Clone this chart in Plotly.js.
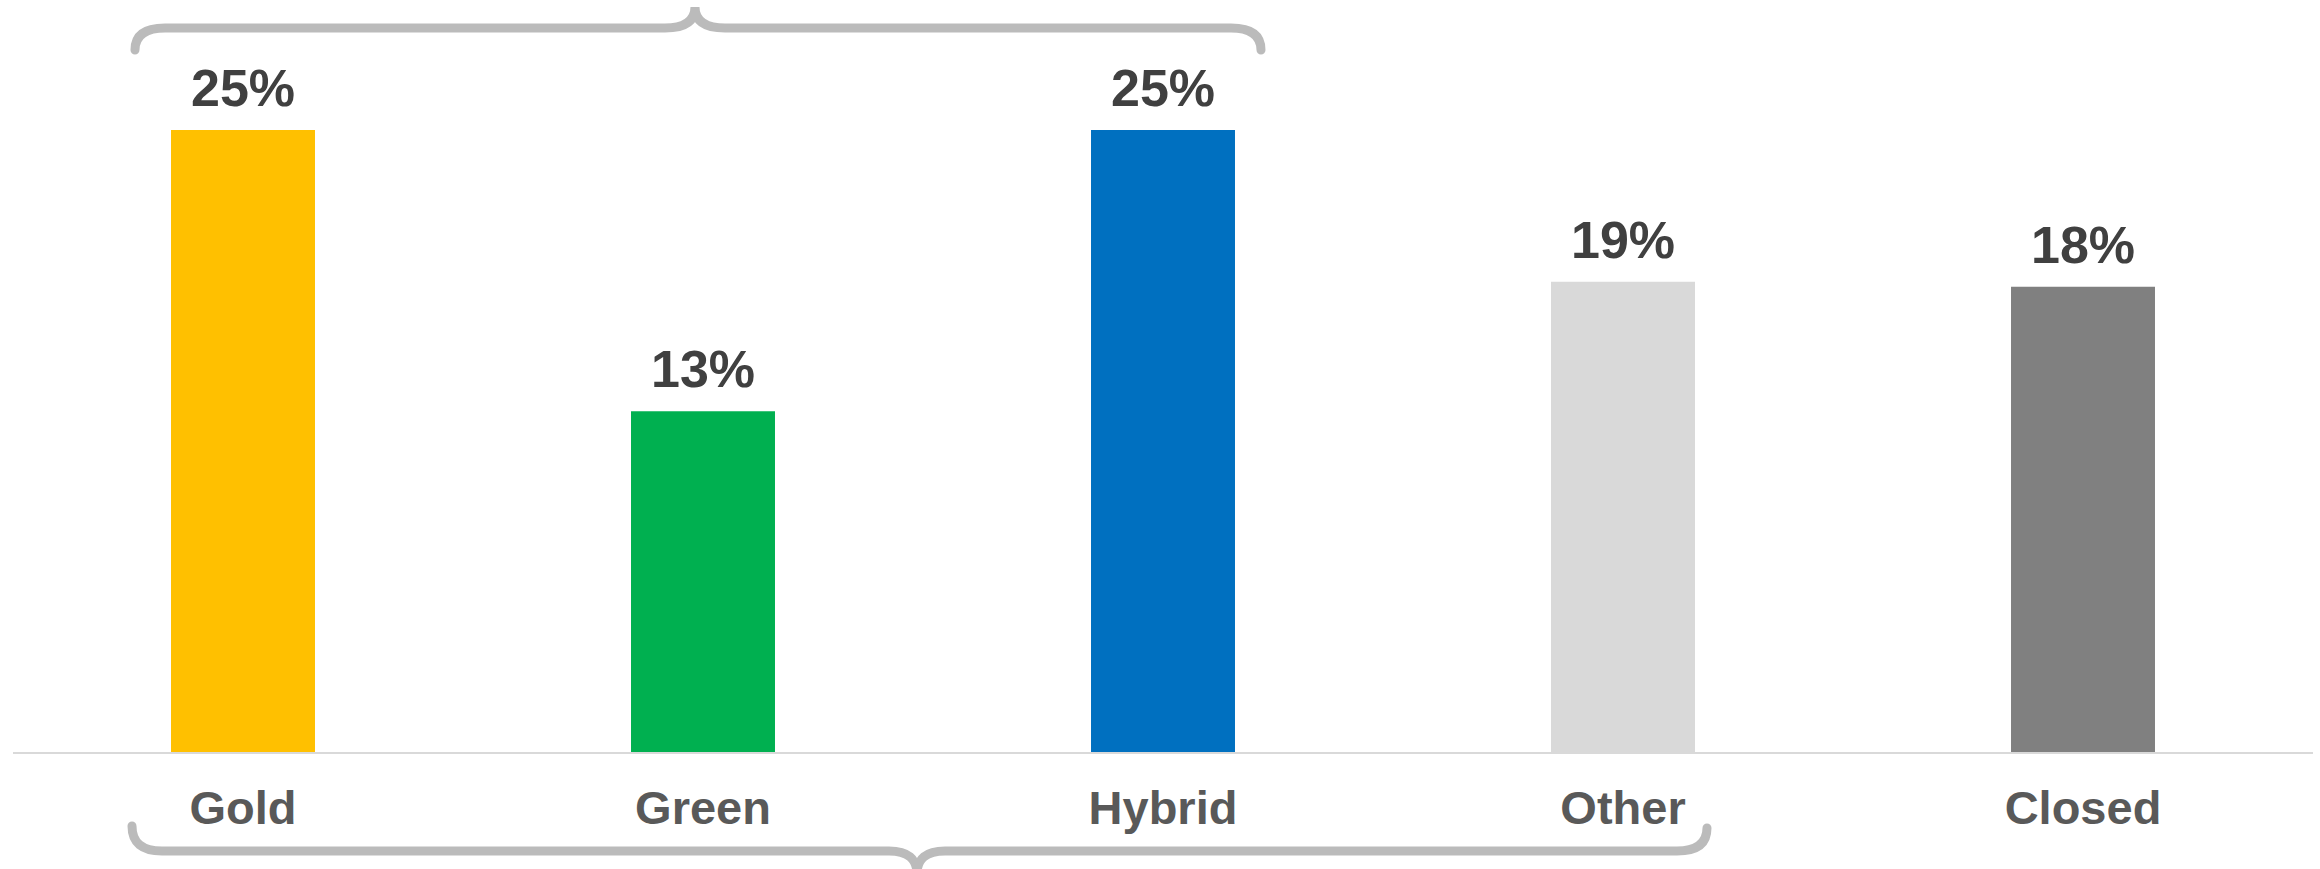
<!DOCTYPE html>
<html>
<head>
<meta charset="utf-8">
<script src="https://cdn.plot.ly/plotly-3.0.1.min.js"></script>
<style>html,body{margin:0;padding:0;background:#fff;}#chart{width:2320px;height:869px;}</style>
</head>
<body>
<div id="chart"></div>
<script>
const categories = ["Gold", "Green", "Hybrid", "Other", "Closed"];
const values = [25, 13.7, 25, 18.9, 18.7];
const valueLabels = ["25%", "13%", "25%", "19%", "18%"];
const barColors = ["#FFC000", "#00B050", "#0070C0", "#D9D9D9", "#808080"];

const W = 2320, H = 869;
const M = {l: 13, r: 7, t: 0, b: 117};
const plotW = W - M.l - M.r, plotH = H - M.t - M.b;
// pixel -> paper helpers for decorative braces
const px = v => ((v - M.l) / plotW).toFixed(5);
const py = v => ((H - M.b - v) / plotH).toFixed(5);
function P(cmds) {
  return cmds.map(c => c[0] + ' ' + c.slice(1).map((v, i) => i % 2 === 0 ? px(v) : py(v)).join(' ')).join(' ');
}
const braceTop = P([
  ['M', 135, 50], ['Q', 135, 28, 165, 28], ['L', 665, 28], ['Q', 695, 28, 695, 7],
  ['Q', 695, 28, 725, 28], ['L', 1231, 28], ['Q', 1261, 28, 1261, 50]
]);
const braceBottom = P([
  ['M', 132, 826], ['Q', 132, 851, 162, 851], ['L', 889, 851], ['Q', 917, 851, 917, 874],
  ['Q', 917, 851, 945, 851], ['L', 1677, 851], ['Q', 1707, 851, 1707, 828]
]);
const braceLine = {color: '#BBBBBB', width: 9};

const trace = {
  type: 'bar',
  x: categories,
  y: values,
  marker: {color: barColors, line: {width: 0}},
  width: 0.313,
  hoverinfo: 'skip'
};

const annotations = categories.map((c, i) => ({
  x: c, y: values[i], xref: 'x', yref: 'y',
  text: valueLabels[i], showarrow: false,
  yanchor: 'bottom', yshift: 11,
  font: {family: 'Liberation Sans, Arial, sans-serif', size: 52, color: '#404040', weight: 'bold'}
}));

const layout = {
  width: W, height: H,
  margin: M,
  paper_bgcolor: '#ffffff', plot_bgcolor: '#ffffff',
  showlegend: false,
  font: {family: 'Liberation Sans, Arial, sans-serif'},
  xaxis: {
    type: 'category', range: [-0.5, 4.5],
    showline: true, linecolor: '#D9D9D9', linewidth: 2,
    ticks: '', showgrid: false, zeroline: false,
    ticklabelstandoff: 14,
    tickfont: {family: 'Liberation Sans, Arial, sans-serif', size: 47, color: '#595959', weight: 'bold'}
  },
  yaxis: {visible: false, range: [0, 25 * plotH / 622], showgrid: false, zeroline: false},
  annotations: annotations,
  shapes: [
    {type: 'path', xref: 'paper', yref: 'paper', path: braceTop, line: braceLine},
    {type: 'path', xref: 'paper', yref: 'paper', path: braceBottom, line: braceLine}
  ]
};

Plotly.newPlot('chart', [trace], layout, {staticPlot: true, displayModeBar: false}).then(() => {
  document.querySelectorAll('.shapelayer path').forEach(p => p.style.strokeLinecap = 'round');
});
</script>
</body>
</html>
